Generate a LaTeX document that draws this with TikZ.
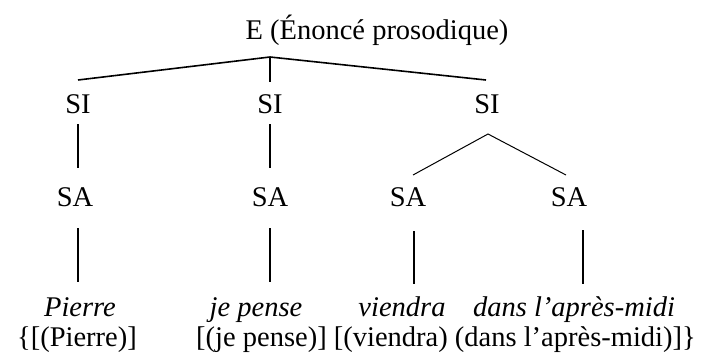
\documentclass[tikz,border=0pt]{standalone}
\usepackage{fontspec}
\setmainfont{Liberation Serif}
\begin{document}
\begin{tikzpicture}[x=1pt,y=-1pt,
  lab/.style={anchor=base,inner sep=0pt,font=\fontsize{28.5}{32}\selectfont},
  ital/.style={lab,font=\fontsize{28.5}{32}\selectfont\itshape},
  thick edge/.style={line width=1.6pt},
  thin edge/.style={line width=1pt}]
\useasboundingbox (0,0) rectangle (706,356);
\node[lab] (E) at (377,39) {E (Énoncé prosodique)};
\coordinate (top) at (270,57);
\node[lab] (SI1) at (78,113) {SI};
\node[lab] (SI2) at (270,113) {SI};
\node[lab] (SI3) at (487,113) {SI};
\coordinate (t1) at (78,80);
\coordinate (t2) at (270,82);
\coordinate (t3) at (486,80);
\draw[thick edge] (t1) -- (top) -- (t3);
\draw[thick edge] (top) -- (t2);
\node[lab] (SA1) at (75,206) {SA};
\node[lab] (SA2) at (270,206) {SA};
\node[lab] (SA3) at (408,206) {SA};
\node[lab] (SA4) at (569,206) {SA};
\coordinate (a1) at (78,124); \coordinate (b1) at (78,168);
\coordinate (a2) at (270,124); \coordinate (b2) at (270,168);
\draw[thick edge] (a1) -- (b1);
\draw[thick edge] (a2) -- (b2);
\coordinate (s3) at (488,134);
\coordinate (d1) at (413,175);
\coordinate (d2) at (566,175);
\draw[thin edge] (d1) -- (s3) -- (d2);
\node[ital] (W1) at (80,316) {Pierre};
\node[ital] (W2) at (256,316) {je pense};
\node[ital] (W3) at (402,316) {viendra};
\node[ital] (W4) at (574,316) {dans l’après-midi};
\coordinate (c1) at (78,228); \coordinate (e1) at (78,282);
\coordinate (c2) at (270,228); \coordinate (e2) at (270,282);
\coordinate (c3) at (414,231); \coordinate (e3) at (414,284);
\coordinate (c4) at (583,230); \coordinate (e4) at (583,284);
\draw[thick edge] (c1) -- (e1);
\draw[thick edge] (c2) -- (e2);
\draw[thick edge] (c3) -- (e3);
\draw[thick edge] (c4) -- (e4);
\node[lab] (B1) at (77,346) {\{[(Pierre)]};
\node[lab,anchor=base west] (B2) at (196,346) {[(je pense)] [(viendra) (dans l’après-midi)]\}};
\end{tikzpicture}
\end{document}
